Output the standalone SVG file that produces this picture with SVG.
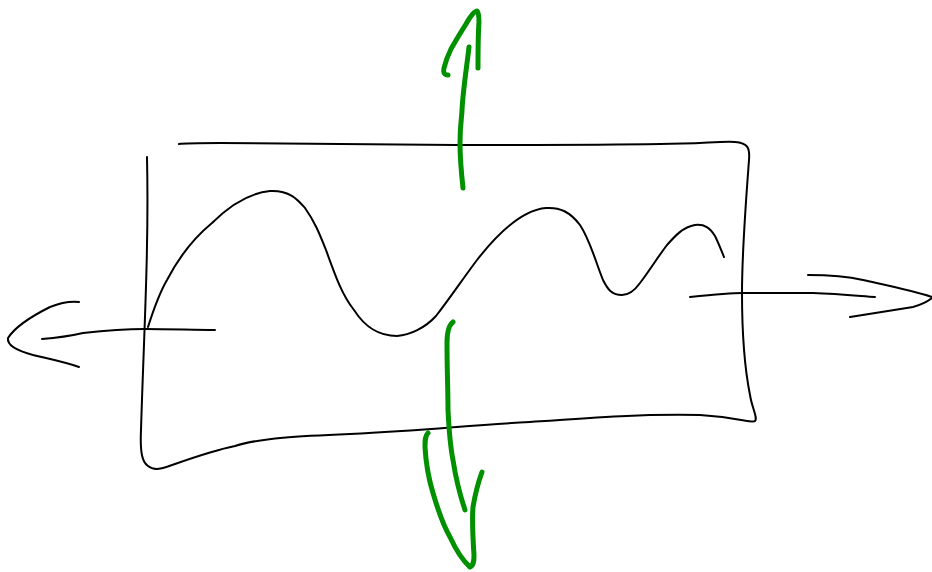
<svg xmlns="http://www.w3.org/2000/svg" width="932" height="572" viewBox="0 0 932 572">
<style>
.k{fill:none;stroke:#000;stroke-width:2;stroke-linecap:round;stroke-linejoin:round}
.g{fill:none;stroke:#009000;stroke-width:5;stroke-linecap:round;stroke-linejoin:round}
</style>
<rect width="932" height="572" fill="#fff"/>
<g id="box">
<path class="k" d="M147 157 C149 250 144 330 141 430 C140 452 142 462 148 466 C154 471 162 469 175 464 C195 457 215 450 235 446 C260 438 300 436 350 434 C430 430 470 425 530 422 C600 417 640 414 700 415 C740 417 752 424 755 421 C758 418 752 408 750 395 C745 370 742 330 742 293 C742 250 746 200 749 160 C750 148 748 143 735 142 C720 141 700 144 660 144 C600 145 520 145 456 145 C380 145 300 144 220 143 C200 143 185 143 179 144"/>
</g>
<g id="wave">
<path class="k" d="M148 327 C155 305 160 292 167 280 C180 255 195 237 212 223 C230 205 250 193 270 191 C290 190 298 200 305 208 C315 222 320 235 326 250 C335 275 342 295 354 310 C365 327 378 336 397 336 C410 335 425 328 436 316 C450 298 462 280 477 260 C495 237 520 210 546 208 C560 207 570 212 580 225 C590 240 595 260 603 280 C608 290 612 295 622 295 C630 295 635 290 640 283 C650 270 657 258 667 245 C675 236 683 227 695 225 C705 224 710 228 715 236 C719 244 721 250 724 257"/>
</g>
<g id="left-arrow">
<path class="k" d="M42 339 C55 338 70 336 83 333 C110 330 130 329 145 329 C170 329 195 330 215 330"/>
<path class="k" d="M79 302 C70 301 60 303 50 307 C30 317 15 327 8 338 C7 345 15 350 33 355 C50 359 65 362 79 367"/>
</g>
<g id="right-arrow">
<path class="k" d="M690 297 C710 295 730 293 742 293 C770 293 800 293 813 293 C840 294 860 296 875 297"/>
<path class="k" d="M808 275 C830 275 850 277 863 280 C890 286 915 291 932 297"/>
<path class="k" d="M850 317 C870 314 895 310 913 307 C920 305 927 302 932 298"/>
</g>
<g id="up-arrow">
<path class="g" d="M463 188 C461 170 460 155 460 143 C460 125 462 115 462 110 C463 90 467 65 469 47"/>
<path class="g" d="M448 75 C444 75 443 72 444 68 C446 60 448 55 451 49 C456 40 461 32 466 24 C470 17 474 11 477 11 C479 13 479 17 479 22 C478 35 478 50 478 68"/>
</g>
<g id="down-arrow">
<path class="g" d="M453 322 C449 325 447 333 447 343 C447 370 448 390 448 410 C449 430 450 445 453 460 C456 480 460 495 465 510"/>
<path class="g" d="M428 433 C425 436 425 440 425 447 C426 465 429 480 433 493 C438 510 443 525 450 537 C456 550 462 560 470 567 C474 565 474 560 474 555 C473 540 472 520 473 507 C475 495 478 483 482 472"/>
</g>
</svg>
